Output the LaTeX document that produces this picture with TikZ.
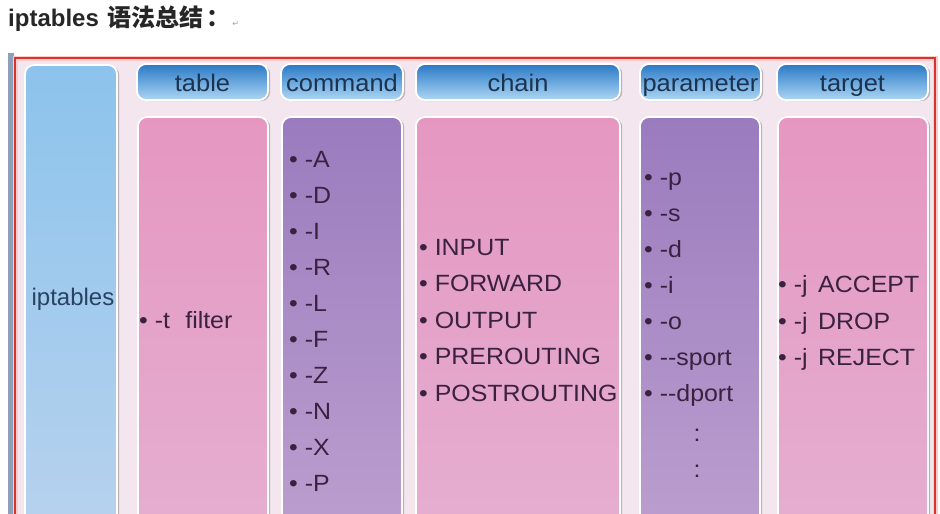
\documentclass[tikz,border=0pt]{standalone}
\usepackage{fontspec}
\setmainfont{Liberation Sans}[FakeStretch=1.06]
\newfontfamily\plainsans{Liberation Sans}
\newfontfamily\cjk{Noto Sans CJK SC}
\newfontfamily\dejavu{DejaVu Sans}
\usetikzlibrary{shadows}
\definecolor{hdrtop}{HTML}{2B78C4}
\definecolor{hdrmid}{HTML}{6AA8DE}
\definecolor{hdrbot}{HTML}{AED6F4}
\definecolor{hdrtext}{HTML}{1C3350}
\definecolor{pinktop}{HTML}{E597C1}
\definecolor{pinkbot}{HTML}{E5B0D2}
\definecolor{purptop}{HTML}{9A7BBE}
\definecolor{purpbot}{HTML}{BEA1D0}
\definecolor{bluetop}{HTML}{8CC3EC}
\definecolor{bluebot}{HTML}{BAD3EE}
\definecolor{itemtext}{HTML}{3A2140}
\definecolor{ipttext}{HTML}{2A4262}
\definecolor{panelbg}{HTML}{F3E6EF}
\definecolor{redframe}{HTML}{D2362F}
\definecolor{strip}{HTML}{8E9FB8}
\begin{document}
\begin{tikzpicture}[x=1pt,y=-1pt,
  boxbase/.style={rounded corners=9pt, draw=white, line width=1.8pt, inner sep=0pt,
    drop shadow={shadow xshift=2.2pt, shadow yshift=-1pt, opacity=.4, fill=black!60}},
  hdr/.style={boxbase, top color=hdrtop, bottom color=hdrbot, middle color=hdrmid,
    text=hdrtext, font=\fontsize{24}{28}\selectfont, minimum height=36pt,
    text height=18.5pt, text depth=0pt},
  pinkbody/.style={boxbase, top color=pinktop, bottom color=pinkbot, minimum height=443pt},
  purpbody/.style={boxbase, top color=purptop, bottom color=purpbot, minimum height=443pt},
  itm/.style={font=\fontsize{23.5}{28}\selectfont, text=itemtext, anchor=base west, inner sep=0pt},
]
\useasboundingbox (0,0) rectangle (940,514);
\clip (0,0) rectangle (940,514);
\fill[white] (0,0) rectangle (940,514);

% title
\node[anchor=base west, inner sep=0pt, font=\plainsans\fontsize{24}{28}\selectfont\bfseries, text=black!85] (title) at (8,27) {iptables\hspace{9pt}{\cjk\bfseries 语法总结\hspace{3pt}：}};
\node[anchor=base west, inner sep=0pt, font=\dejavu\fontsize{8}{9}\selectfont, text=black!35] (ret) at ([xshift=1pt]title.base east) {↵};

% frame
\fill[strip] (8,53) rectangle (14,514);
\fill[panelbg] (15,58) rectangle (935,520);
\draw[red!20, line width=5pt] (15,58) rectangle (935,520);
\draw[redframe, line width=2.6pt] (15,58) rectangle (935,520);

% iptables column
\node[boxbase, top color=bluetop, bottom color=bluebot, minimum width=92pt, minimum height=495pt] (ipt) at (71,312.5) {};
\node[anchor=base, inner sep=0pt, font=\plainsans\fontsize{24}{28}\selectfont, text=ipttext] (iptl) at (73,305) {iptables};

% headers
\node[hdr, minimum width=131pt] (htable) at (202.5,82) {table};
\node[hdr, minimum width=122pt] (hcmd) at (342,82) {command};
\node[hdr, minimum width=204pt] (hchain) at (518,82) {chain};
\node[hdr, minimum width=121pt] (hpar) at (700.5,82) {parameter};
\node[hdr, minimum width=151pt] (htgt) at (852.5,82) {target};

% bodies
\node[pinkbody, minimum width=130pt] (btable) at (203,338.5) {};
\node[purpbody, minimum width=120pt] (bcmd) at (342,338.5) {};
\node[pinkbody, minimum width=204pt] (bchain) at (518,338.5) {};
\node[purpbody, minimum width=120pt] (bpar) at (700,338.5) {};
\node[pinkbody, minimum width=150pt] (btgt) at (853,338.5) {};

% table items
\node[itm] (t1) at (139,328) {• -t\hspace{0.65em}filter};

% command items
\node[itm] (c1) at (289,167) {• -A};
\node[itm] (c2) at (289,203) {• -D};
\node[itm] (c3) at (289,239) {• -I};
\node[itm] (c4) at (289,275) {• -R};
\node[itm] (c5) at (289,311) {• -L};
\node[itm] (c6) at (289,347) {• -F};
\node[itm] (c7) at (289,383) {• -Z};
\node[itm] (c8) at (289,419) {• -N};
\node[itm] (c9) at (289,455) {• -X};
\node[itm] (c10) at (289,491) {• -P};

% chain items
\node[itm] (ch1) at (419,255) {• INPUT};
\node[itm] (ch2) at (419,291.5) {• FORWARD};
\node[itm] (ch3) at (419,328) {• OUTPUT};
\node[itm] (ch4) at (419,364.5) {• PREROUTING};
\node[itm] (ch5) at (419,401) {• POSTROUTING};

% parameter items
\node[itm] (p1) at (644,185) {• -p};
\node[itm] (p2) at (644,221) {• -s};
\node[itm] (p3) at (644,257) {• -d};
\node[itm] (p4) at (644,293) {• -i};
\node[itm] (p5) at (644,329) {• -o};
\node[itm] (p6) at (644,365) {• -{}-sport};
\node[itm] (p7) at (644,401) {• -{}-dport};
\node[itm, anchor=base] (pd1) at (697,441) {:};
\node[itm, anchor=base] (pd2) at (697,477) {:};

% target items
\node[itm] (g1) at (778,292.5) {• -j\hspace{0.45em}ACCEPT};
\node[itm] (g2) at (778,329) {• -j\hspace{0.45em}DROP};
\node[itm] (g3) at (778,365) {• -j\hspace{0.45em}REJECT};
\end{tikzpicture}
\end{document}
